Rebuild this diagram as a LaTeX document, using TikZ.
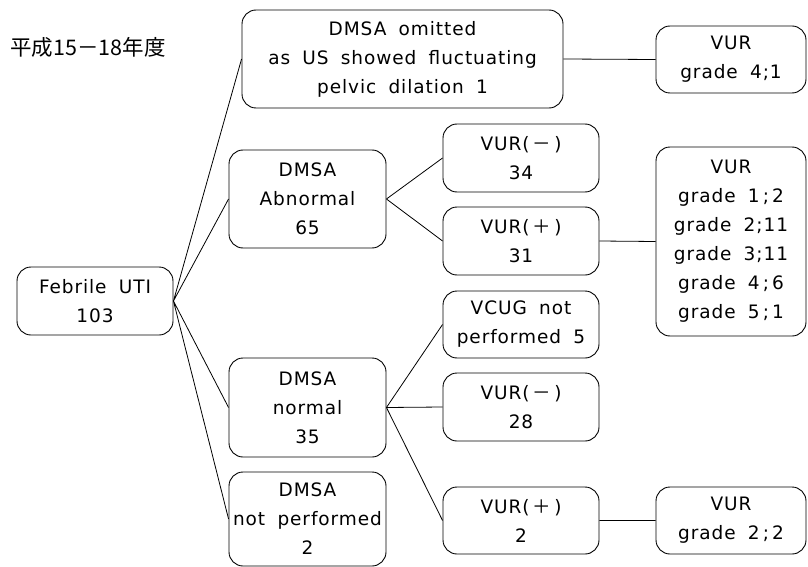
\documentclass[tikz,border=0pt]{standalone}
\usepackage{fontspec}
\setmainfont{DejaVu Sans}[LetterSpace=5, WordSpace=1.8]
\newfontfamily\jpfont{Noto Sans CJK JP}

\newcommand{\vneg}{VUR(\,{\jpfont －}\,)}
\newcommand{\vpos}{VUR(\,{\jpfont ＋}\,)}

\tikzset{
  box/.style={draw, rounded corners=14pt, line width=0.9pt, inner sep=0pt,
              align=center, font=\fontsize{18.5}{29}\selectfont},
  link/.style={line width=0.8pt}
}

\begin{document}
\begin{tikzpicture}[x=1pt, y=-1pt]
  \useasboundingbox (0,0) rectangle (808,567);
  \path node (title) at (88,47) [font=\jpfont\fontsize{21.5}{24}\selectfont] {平成15－18年度};
  \path node (uti)    at (95,301)    [box, minimum width=156pt, minimum height=68pt] {Febrile UTI\\103}
        node (omit)   at (402.5,59)  [box, minimum width=321pt, minimum height=98pt] {DMSA omitted\\as US showed fluctuating\\pelvic dilation 1}
        node (abn)    at (307.5,199) [box, minimum width=157pt, minimum height=98pt] {DMSA\\Abnormal\\65}
        node (nor)    at (307.5,407.5) [box, minimum width=157pt, minimum height=99pt] {DMSA\\normal\\35}
        node (dnp)    at (307.5,519) [box, minimum width=157pt, minimum height=94pt] {DMSA\\not performed\\2}
        node (vneg1)  at (521,158)   [box, minimum width=156pt, minimum height=68pt] {\vneg\\34}
        node (vpos1)  at (521,241)   [box, minimum width=156pt, minimum height=68pt] {\vpos\\31}
        node (vcug)   at (521,324.5) [box, minimum width=156pt, minimum height=67pt] {VCUG not\\performed 5}
        node (vneg2)  at (521,407)   [box, minimum width=156pt, minimum height=68pt] {\vneg\\28}
        node (vpos2)  at (521,520.5) [box, minimum width=156pt, minimum height=67pt] {\vpos\\2}
        node (g41)    at (731,59.5)  [box, minimum width=150pt, minimum height=67pt] {VUR\\grade 4;1}
        node (grades) at (731,241.5) [box, minimum width=150pt, minimum height=189pt] {VUR\\grade 1\,;\,2\\grade 2;11\\grade 3;11\\grade 4\,;\,6\\grade 5\,;\,1}
        node (g22)    at (731,520.5) [box, minimum width=150pt, minimum height=67pt] {VUR\\grade 2\,;\,2};
  \draw[link] (uti.east) -- (omit.west)
        (uti.east) -- (abn.west)
        (uti.east) -- (nor.west)
        (uti.east) -- (dnp.west)
        (omit.east) -- (g41.west)
        (abn.east) -- (vneg1.west)
        (abn.east) -- (vpos1.west)
        (vpos1.east) -- (grades.west)
        (nor.east) -- (vcug.west)
        (nor.east) -- (vneg2.west)
        (nor.east) -- (vpos2.west)
        (vpos2.east) -- (g22.west);
\end{tikzpicture}
\end{document}
